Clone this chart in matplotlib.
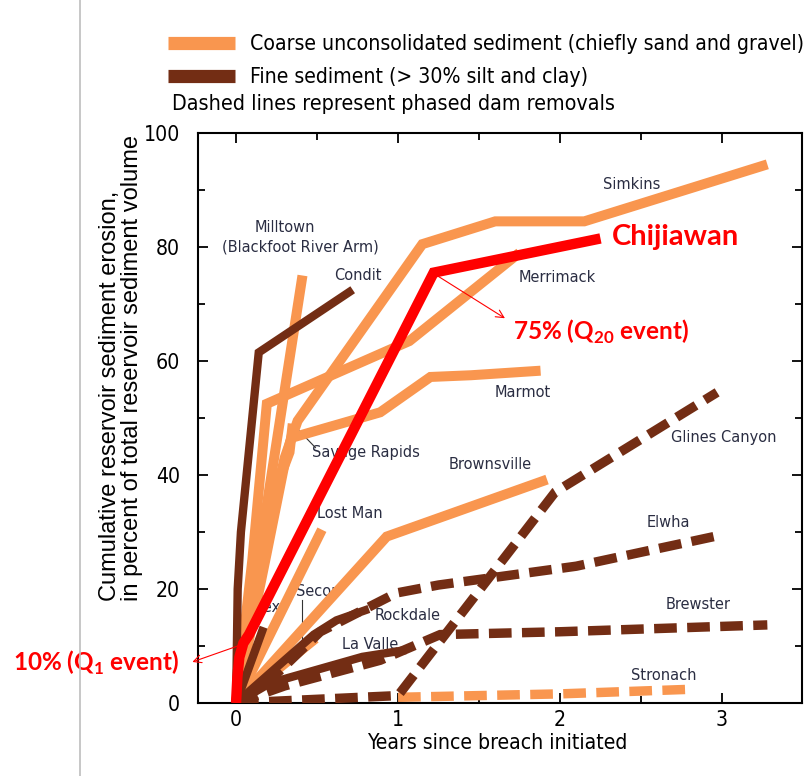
import matplotlib
matplotlib.use('Agg')
import matplotlib.pyplot as plt
from matplotlib import font_manager as fm
from matplotlib.lines import Line2D
from matplotlib.textpath import TextPath
import numpy as np


def pick(names):
    for n in names:
        try:
            fm.findfont(fm.FontProperties(family=n), fallback_to_default=False)
            return n
        except Exception:
            pass
    return 'DejaVu Sans'


def find_narrow():
    best = None
    best_rank = 99
    for e in fm.fontManager.ttflist:
        nm = e.name.lower()
        fn = e.fname.lower()
        st = str(e.stretch).lower()
        if e.style != 'normal':
            continue
        if 'bold' in fn or 'italic' in fn or 'light' in fn or 'thin' in fn or 'medium' in fn \
                or 'black' in fn or 'semibold' in fn:
            continue
        if 'mono' in nm or 'cjk' in nm or ('serif' in nm and 'sans' not in nm):
            continue
        rank = None
        if 'liberation sans narrow' in nm or 'liberationsansnarrow' in fn:
            rank = 0
        elif 'arial narrow' in nm:
            rank = 1
        elif ('condensed' in fn or 'condensed' in nm or st == 'condensed') and \
                'extra' not in fn and 'ultra' not in fn and 'semi' not in fn:
            rank = 2
        elif 'semicondensed' in fn or st == 'semi-condensed':
            rank = 3
        if rank is not None and rank < best_rank:
            best, best_rank = e, rank
    if best is None:
        return fm.FontProperties(family=pick(['Liberation Sans', 'DejaVu Sans']))
    return fm.FontProperties(fname=best.fname)


NFP = find_narrow()
SANS = pick(['Liberation Sans', 'DejaVu Sans'])
BOLD = pick(['Lato', 'Open Sans', 'DejaVu Sans'])
DPI = 100


def fit(s, target_px, fp=NFP):
    w = TextPath((0, 0), s, size=100, prop=fp).get_extents().width * DPI / 72.0
    return 100.0 * target_px / w


def sized(size, fp=NFP):
    f = fp.copy()
    f.set_size(size)
    return f


plt.rcParams['mathtext.fontset'] = 'custom'
plt.rcParams['mathtext.rm'] = BOLD + ':bold'
plt.rcParams['mathtext.bf'] = BOLD + ':bold'

ORANGE = '#F9964F'
BROWN = '#732D14'
RED = '#FF0000'
LABEL = '#2A2D42'

# ---------------- data (years since breach, % eroded) ----------------
# coarse sediment, single-phase removals
simkins_x = [0, 0.15, 0.30, 0.38, 1.15, 1.60, 2.15, 3.28]
simkins_y = [0, 25, 43, 49.5, 80.5, 84.5, 84.5, 94.5]
merrimack_x = [0, 0.10, 0.19, 1.07, 1.75]
merrimack_y = [0, 25, 52.5, 63.5, 79]
marmot_x = [0, 0.18, 0.30, 0.34, 0.89, 1.20, 1.45, 1.88]
marmot_y = [0, 25, 42, 46.5, 51, 57.2, 57.5, 58.3]
milltown_x = [0, 0.41]
milltown_y = [0, 75]
savage_x = [0, 0.12, 0.25, 0.33, 0.35]
savage_y = [0, 20, 38, 44, 49]
lostman_x = [0, 0.53]
lostman_y = [0, 30.4]
secor_x = [0, 0.49]
secor_y = [0, 11.3]
brownsville_x = [0, 0.93, 1.92]
brownsville_y = [0, 29.2, 39.2]
# coarse sediment, phased removal
stronach_x = [1.0, 2.0, 2.8]
stronach_y = [1.0, 1.6, 2.4]
# fine sediment, single-phase removals
condit_x = [0, 0.01, 0.03, 0.14, 0.72]
condit_y = [0, 20, 30, 61.5, 72.5]
ivex_x = [0, 0.17]
ivex_y = [0, 13.3]
rockdale_x = [0, 0.20, 0.48, 0.62, 0.82]
rockdale_y = [0, 5, 12, 14.5, 16.5]
lavalle_x = [0, 0.21, 0.78, 1.05]
lavalle_y = [0, 3.5, 8.1, 9.3]
# fine sediment, phased removals
glines_x = [0, 1.0, 1.97, 2.97]
glines_y = [0, 1.3, 37, 54.5]
elwha_x = [0, 0.21, 0.52, 0.99, 1.25, 2.1, 3.0]
elwha_y = [0, 4, 12.5, 19.3, 20.7, 24, 29.5]
brewster_x = [0, 0.3, 0.89, 1.26, 2.0, 3.28]
brewster_y = [0, 3, 7.5, 12, 12.5, 13.7]
# Chijiawan
chiji_x = [0, 0.008, 0.02, 0.045, 0.08, 1.22, 2.25]
chiji_y = [0, 4.5, 8, 10.5, 12, 75.5, 81.5]

x_ticks = [0, 1, 2, 3]
y_ticks = [0, 20, 40, 60, 80, 100]

# ---------------- figure ----------------
W, H = 811, 776
fig = plt.figure(figsize=(W / DPI, H / DPI), dpi=DPI)
ax = fig.add_axes([198 / W, 1 - 703 / H, (802 - 198) / W, (703 - 133) / H])
ax.set_xlim(-0.235, 3.494)
ax.set_ylim(0, 100)

LW_O = 7.2
LW_B = 6.0
LW_D = 6.8

solid = dict(solid_capstyle='butt', solid_joinstyle='miter')
dash = dict(dash_capstyle='butt', dash_joinstyle='miter', dashes=(2.4, 1.1))

for xs, ys in [(savage_x, savage_y), (marmot_x, marmot_y), (merrimack_x, merrimack_y),
               (simkins_x, simkins_y), (milltown_x, milltown_y), (lostman_x, lostman_y),
               (secor_x, secor_y), (brownsville_x, brownsville_y)]:
    ax.plot(xs, ys, color=ORANGE, lw=LW_O, zorder=2, **solid)
ax.plot(stronach_x, stronach_y, color=ORANGE, lw=LW_D, zorder=2, **dash)

for xs, ys in [(condit_x, condit_y), (ivex_x, ivex_y), (rockdale_x, rockdale_y),
               (lavalle_x, lavalle_y)]:
    ax.plot(xs, ys, color=BROWN, lw=LW_B, zorder=3, **solid)
for xs, ys in [(glines_x, glines_y), (elwha_x, elwha_y), (brewster_x, brewster_y)]:
    ax.plot(xs, ys, color=BROWN, lw=LW_D, zorder=3, **dash)

ax.plot(chiji_x, chiji_y, color=RED, lw=7.5, zorder=5, solid_capstyle='butt',
        solid_joinstyle='miter')

# ---------------- axes styling ----------------
XL = 'Years since breach initiated'
xl_size = fit(XL, 260)
tick_size = min(xl_size, fit('100', 36))

ax.set_xticks(x_ticks)
ax.set_xticks([0.5, 1.5, 2.5], minor=True)
ax.set_yticks(y_ticks)
ax.set_yticks(np.arange(10, 100, 20), minor=True)
ax.tick_params(which='both', direction='in', top=True, right=True, width=1.3, colors='black')
ax.tick_params(which='major', length=7)
ax.tick_params(which='minor', length=5)
ax.tick_params(axis='y', which='major', pad=13)
ax.tick_params(axis='x', which='major', pad=5)
for lab in ax.get_xticklabels() + ax.get_yticklabels():
    lab.set_fontproperties(sized(tick_size))
for sp in ax.spines.values():
    sp.set_linewidth(1.5)

fig.text(497 / W, 1 - 743 / H, XL, ha='center', va='center', fontproperties=sized(xl_size))
fig.text(121 / W, 1 - 601 / H,
         'Cumulative reservoir sediment erosion,\nin percent of total reservoir sediment volume',
         rotation=90, ha='center', va='bottom', multialignment='left', linespacing=1.0,
         fontsize=17, family=SANS)

# ---------------- legend ----------------
L1 = 'Coarse unconsolidated sediment (chiefly sand and gravel)'
L2 = 'Fine sediment (> 30% silt and clay)'
L3 = 'Dashed lines represent phased dam removals'
leg_size = fit(L1, 553)
leg_px = leg_size * DPI / 72.0
handles = [Line2D([], [], color=ORANGE, lw=9.5, solid_capstyle='butt'),
           Line2D([], [], color=BROWN, lw=9.5, solid_capstyle='butt')]
leg = fig.legend(handles, [L1, L2],
                 loc='upper left', bbox_to_anchor=(168 / W, 1 - 34 / H), frameon=False,
                 prop=sized(leg_size), handlelength=67 / leg_px, handletextpad=15 / leg_px,
                 labelspacing=13 / leg_px, borderpad=0, borderaxespad=0)
fig.text(172 / W, 1 - 104 / H, L3, ha='left', va='center', fontproperties=sized(fit(L3, 440)))

# thin grey border line on the left
fig.add_artist(Line2D([80 / W, 80 / W], [0, 1], color='#BDBDBD', lw=1.2,
                      transform=fig.transFigure))

# ---------------- labels ----------------
lab_fp = sized(fit('Glines Canyon', 98) * 1.05)
lab_kw = dict(fontproperties=lab_fp, color=LABEL, ha='center', va='center', zorder=1)
labels = [
    ('Milltown', 0.30, 83.4), ('(Blackfoot River Arm)', 0.395, 80.0), ('Condit', 0.75, 75.0),
    ('Savage Rapids', 0.80, 43.9), ('Lost Man', 0.70, 33.3), ('Secor', 0.50, 19.6),
    ('Ivex', 0.18, 16.7), ('Rockdale', 1.06, 15.4), ('La Valle', 0.83, 10.2),
    ('Simkins', 2.44, 90.9), ('Merrimack', 1.98, 74.6), ('Marmot', 1.77, 54.4),
    ('Brownsville', 1.57, 41.8), ('Glines Canyon', 3.01, 46.5), ('Elwha', 2.67, 31.6),
    ('Brewster', 2.85, 17.2), ('Stronach', 2.64, 4.9),
]
for s, x, y in labels:
    ax.text(x, y, s, **lab_kw)
# pointer lines
ax.plot([0.365, 0.49], [48.5, 44.8], color='#333333', lw=0.8, zorder=1)
ax.plot([0.41, 0.41], [18.0, 10.5], color='#333333', lw=0.8, zorder=1)

# ---------------- Chijiawan annotations ----------------
ax.text(2.32, 81.75, 'Chijiawan', color=RED, fontsize=21, family=BOLD, weight='bold',
        ha='left', va='center', zorder=7)
ax.text(1.71, 65.1, r'75% (Q$_{\mathbf{20}}$ event)', color=RED, fontsize=17.5, family=BOLD,
        weight='bold', ha='left', va='center', zorder=7)
ax.annotate('', xy=(1.66, 67.5), xytext=(1.24, 75.0),
            arrowprops=dict(arrowstyle='->', color=RED, lw=0.8, shrinkA=0, shrinkB=0,
                            mutation_scale=14), zorder=7)
ax.annotate('', xy=(-0.27, 7.2), xytext=(0.03, 10.2), annotation_clip=False,
            arrowprops=dict(arrowstyle='->', color=RED, lw=0.8, shrinkA=0, shrinkB=0,
                            mutation_scale=14), zorder=7)
ax.text(-1.38, 7.0, r'10% (Q$_{\mathbf{1}}$ event)', color=RED, fontsize=17.5, family=BOLD,
        weight='bold', ha='left', va='center', zorder=7, clip_on=False)

fig.savefig('out.png', dpi=DPI, facecolor='white')
